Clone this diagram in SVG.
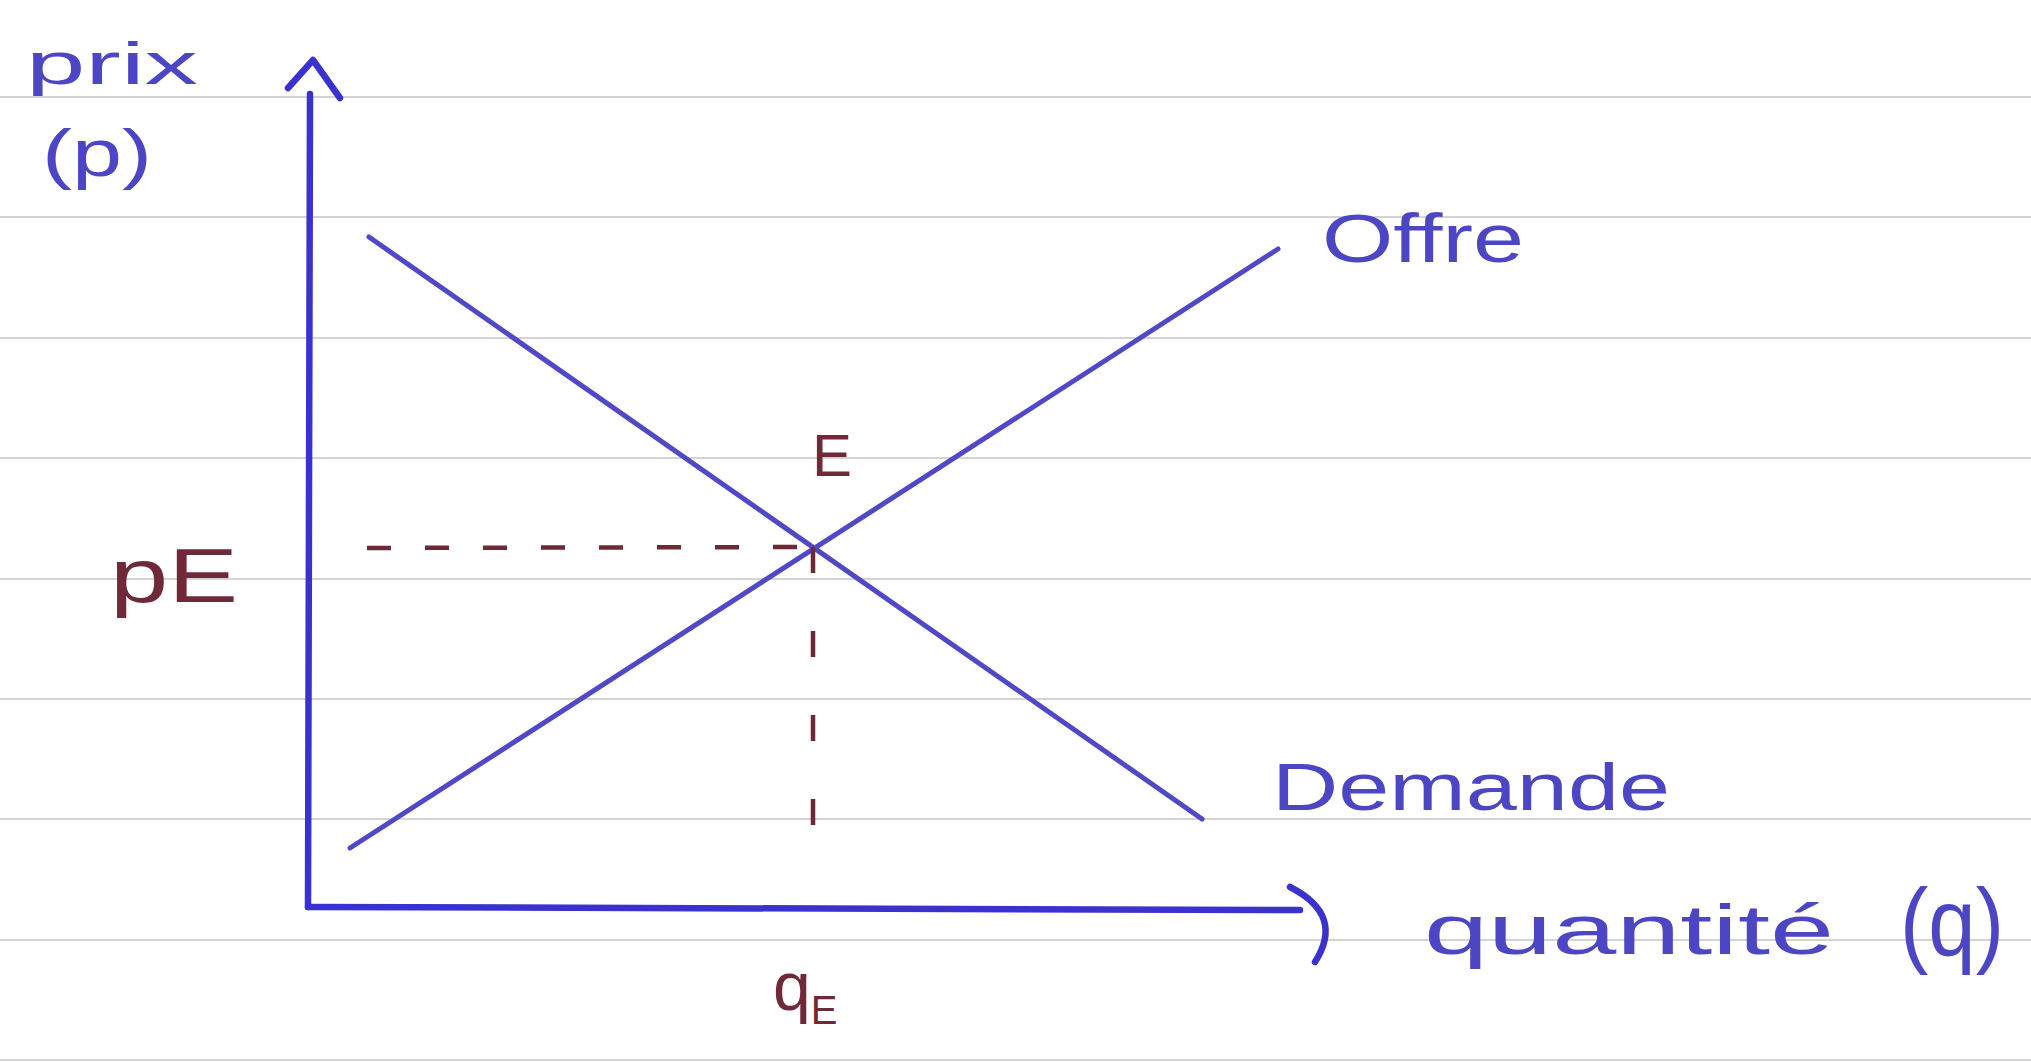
<svg xmlns="http://www.w3.org/2000/svg" width="2031" height="1062" viewBox="0 0 2031 1062">
<style>
.rule{stroke:#c4c4c4;stroke-width:1.6}
.axis{stroke:#3a32cf;stroke-width:6.5;fill:none;stroke-linecap:round;stroke-linejoin:round}
.curve{stroke:#5048c6;stroke-width:5;fill:none;stroke-linecap:round}
.dash{stroke:#6b2a36;stroke-width:4.5;fill:none}
.blue{fill:#4d46c4;font-family:"Liberation Sans",Arial,sans-serif}
.red{fill:#6e2a38;font-family:"Liberation Sans",Arial,sans-serif}
</style>
<rect width="2031" height="1062" fill="#ffffff"/>
<g id="paper">
<line class="rule" x1="0" y1="97" x2="2031" y2="97"/>
<line class="rule" x1="0" y1="217" x2="2031" y2="217"/>
<line class="rule" x1="0" y1="338" x2="2031" y2="338"/>
<line class="rule" x1="0" y1="458" x2="2031" y2="458"/>
<line class="rule" x1="0" y1="579" x2="2031" y2="579"/>
<line class="rule" x1="0" y1="699" x2="2031" y2="699"/>
<line class="rule" x1="0" y1="819" x2="2031" y2="819"/>
<line class="rule" x1="0" y1="940" x2="2031" y2="940"/>
<line class="rule" x1="0" y1="1060" x2="2031" y2="1060"/>
</g>
<g id="connectors">
<line class="axis" x1="310" y1="94" x2="308" y2="907"/>
<polyline class="axis" points="288,88 313,60 340,98"/>
<line class="axis" x1="308" y1="907" x2="1300" y2="910"/>
<path class="axis" d="M1290,887 Q1345,915 1315,962"/>
<line id="demande-line" class="curve" x1="369" y1="237" x2="1202" y2="819"/>
<line id="offre-line" class="curve" x1="350" y1="848" x2="1278" y2="249"/>
<line class="dash" x1="367" y1="548" x2="813" y2="547" stroke-dasharray="24,34"/>
<line class="dash" x1="813" y1="547" x2="813" y2="882" stroke-dasharray="26,58"/>
</g>
<g id="label-prix">
<text class="blue" x="26" y="84" font-size="60" textLength="172" lengthAdjust="spacingAndGlyphs">prix</text>
<text class="blue" x="42" y="176" font-size="66" textLength="110" lengthAdjust="spacingAndGlyphs">(p)</text>
</g>
<g id="label-pE">
<text class="red" x="110" y="602" font-size="76" textLength="128" lengthAdjust="spacingAndGlyphs">pE</text>
</g>
<g id="node-E">
<text class="red" x="812" y="476" font-size="60" textLength="40" lengthAdjust="spacingAndGlyphs">E</text>
</g>
<g id="label-qE">
<text class="red" x="773" y="1010" font-size="68">q<tspan font-size="40" dy="14">E</tspan></text>
</g>
<g id="label-offre">
<text class="blue" x="1322" y="262" font-size="68" textLength="202" lengthAdjust="spacingAndGlyphs">Offre</text>
</g>
<g id="label-demande">
<text class="blue" x="1272" y="810" font-size="66" textLength="398" lengthAdjust="spacingAndGlyphs">Demande</text>
</g>
<g id="label-quantite">
<text class="blue" x="1424" y="954" font-size="70" textLength="410" lengthAdjust="spacingAndGlyphs">quantité</text>
<text class="blue" x="1900" y="955" font-size="94" textLength="104" lengthAdjust="spacingAndGlyphs">(q)</text>
</g>
</svg>
